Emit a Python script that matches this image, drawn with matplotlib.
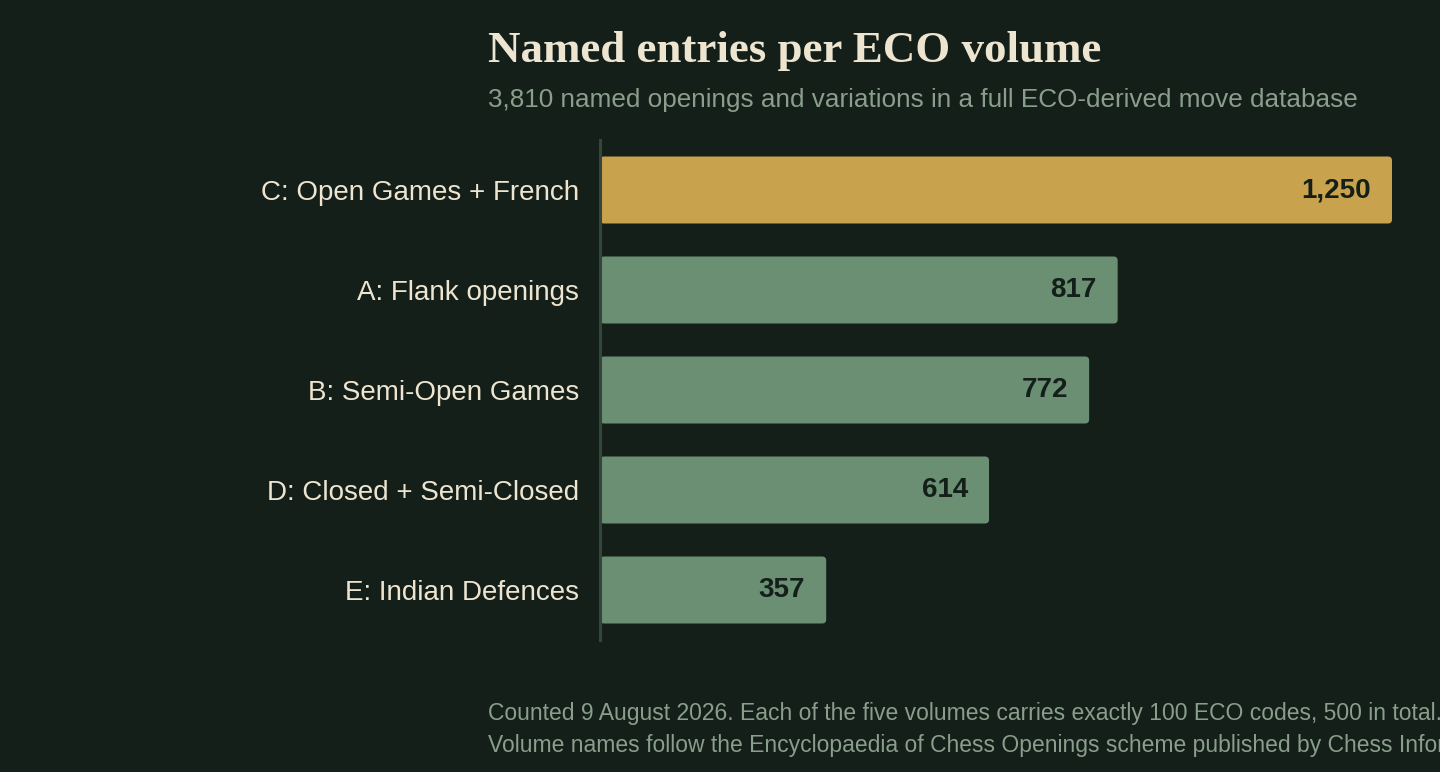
import matplotlib.pyplot as plt
from matplotlib.patches import FancyBboxPatch

BG = '#141f1a'
GOLD = '#c9a24d'
SAGE = '#6b8f73'
CREAM = '#ede5d0'
MUTED = '#8a9e8c'

volumes = ["C: Open Games + French", "A: Flank openings", "B: Semi-Open Games",
           "D: Closed + Semi-Closed", "E: Indian Defences"]
entries = [1250, 817, 772, 614, 357]
highlight = "C: Open Games + French"

W, H = 1440, 772
fig = plt.figure(figsize=(W / 100, H / 100), dpi=100, facecolor=BG)

# axes box in pixels: x 601..1392, y 140..640
ax = fig.add_axes([600 / W, 1 - 640 / H, 792 / W, 500 / H], facecolor=BG)

colors = [GOLD if v == highlight else SAGE for v in volumes]
bars = ax.barh(volumes, entries, height=0.67, color=colors)
ax.set_xlim(0, 1250)
ax.set_ylim(4.5, -0.5)

# swap plain bars for slightly rounded ones
px_x = 1250 / 792
px_y = 5 / 500
for b in bars:
    x, y = b.get_xy()
    w, h = b.get_width(), b.get_height()
    r = 4 * px_x
    p = FancyBboxPatch((x, y), w, h,
                       boxstyle=f"round,pad=0,rounding_size={r}",
                       mutation_aspect=px_y / px_x,
                       facecolor=b.get_facecolor(), edgecolor='none')
    b.set_visible(False)
    ax.add_patch(p)

for v, b in zip(entries, bars):
    ax.text(v - 21 * px_x, b.get_y() + b.get_height() / 2, f"{v:,}",
            ha='right', va='center', fontsize=20, fontweight='bold',
            color=BG, family='Liberation Sans')

for s in ['top', 'right', 'bottom']:
    ax.spines[s].set_visible(False)
ax.spines['left'].set_color('#34463b')
ax.spines['left'].set_linewidth(2.2)
ax.set_xticks([])
ax.tick_params(axis='y', length=0, pad=15)
for lab in ax.get_yticklabels():
    lab.set_fontsize(20)
    lab.set_color(CREAM)
    lab.set_family('Liberation Sans')

fig.text(488 / W, 1 - 62 / H, "Named entries per ECO volume",
         fontsize=32.3, fontweight='bold', color=CREAM,
         family='Liberation Serif', va='baseline')
fig.text(488 / W, 1 - 107 / H,
         "3,810 named openings and variations in a full ECO-derived move database",
         fontsize=18.8, color=MUTED, family='Liberation Sans', va='baseline')
fig.text(488 / W, 1 - 720 / H,
         "Counted 9 August 2026. Each of the five volumes carries exactly 100 ECO codes, 500 in total.",
         fontsize=16.5, color=MUTED, family='Liberation Sans', va='baseline')
fig.text(488 / W, 1 - 752 / H,
         "Volume names follow the Encyclopaedia of Chess Openings scheme published by Chess Informant.",
         fontsize=16.5, color=MUTED, family='Liberation Sans', va='baseline')

fig.savefig('out.png', dpi=100, facecolor=BG)
